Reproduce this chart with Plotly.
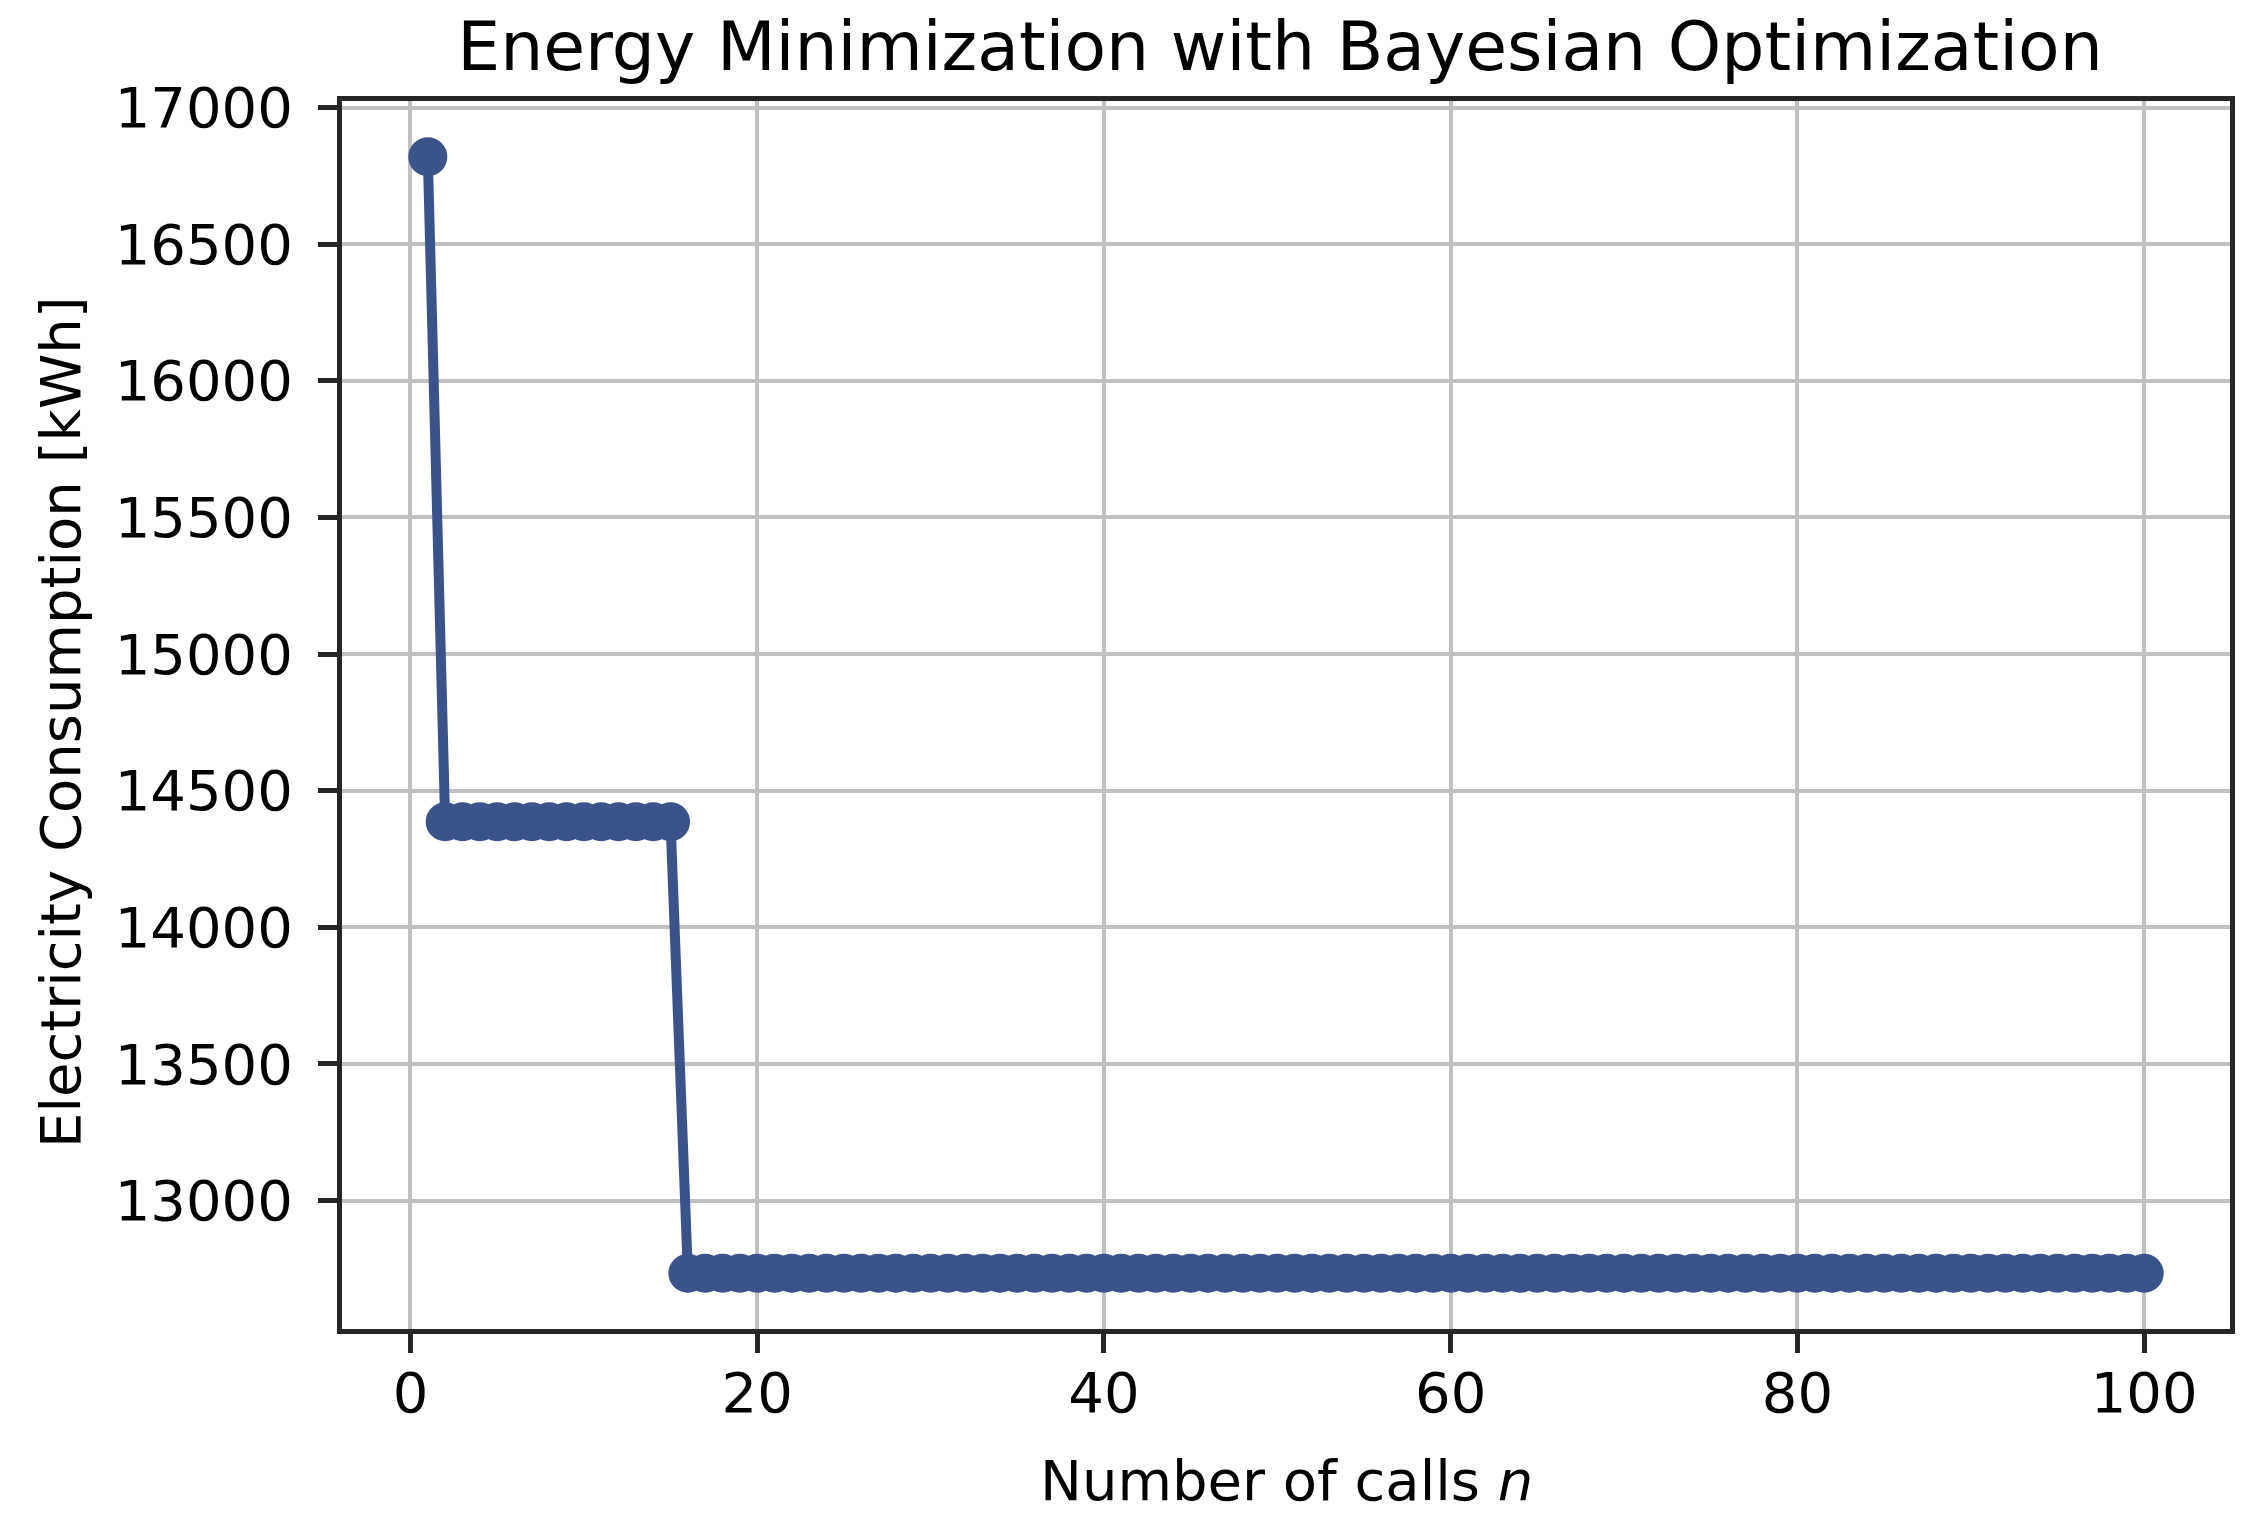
import plotly.graph_objects as go

# Data
calls = list(range(1, 101))
best_values = [16820] + [14386] * 14 + [12734] * 85

x_ticks = [0, 20, 40, 60, 80, 100]
y_ticks = [13000, 13500, 14000, 14500, 15000, 15500, 16000, 16500, 17000]

title_text = "Energy Minimization with Bayesian Optimization"
x_label = "Number of calls <i>n</i>"
y_label = "Electricity Consumption [kWh]"

# matplotlib-like 5% margins
xmin, xmax = min(calls), max(calls)
ymin, ymax = min(best_values), max(best_values)
xpad = (xmax - xmin) * 0.05
ypad = (ymax - ymin) * 0.05

# page body has an 8px default margin; compensate
OFF = 8
W, H = 2251 - OFF, 1531 - OFF
L, R, T, B = 342 - OFF, 21, 101 - OFF, 202
FONT = "DejaVu Sans"
COLOR = "#3b528b"
SPINE = "#262626"

fig = go.Figure()
fig.add_trace(go.Scatter(
    x=calls, y=best_values, mode="lines+markers",
    line=dict(color=COLOR, width=10),
    marker=dict(color=COLOR, size=39, line=dict(width=0)),
    showlegend=False,
))

axis_common = dict(
    showline=True, linewidth=5, linecolor=SPINE, mirror=True,
    showgrid=True, gridcolor="#c0c0c0", gridwidth=4,
    zeroline=False,
    ticks="outside", ticklen=19, tickwidth=5, tickcolor=SPINE,
    tickfont=dict(family=FONT, size=56, color="black"),
)

fig.update_xaxes(range=[xmin - xpad, xmax + xpad], tickvals=x_ticks,
                 ticktext=[str(v) for v in x_ticks], ticklabelstandoff=-8,
                 **axis_common)
fig.update_yaxes(range=[ymin - ypad, ymax + ypad], tickvals=y_ticks,
                 ticktext=[str(v) for v in y_ticks], ticklabelstandoff=14,
                 **axis_common)

pw = W - L - R
ph = H - T - B

fig.add_annotation(text=x_label, xref="paper", yref="paper",
                   x=0.5, y=-(1480 - 1329) / ph,
                   xanchor="center", yanchor="middle", showarrow=False,
                   font=dict(family=FONT, size=56, color="black"))
fig.add_annotation(text=y_label, xref="paper", yref="paper",
                   x=-(342 - 60) / pw, y=1 - (722 - 101) / ph, textangle=-90,
                   xanchor="center", yanchor="middle", showarrow=False,
                   font=dict(family=FONT, size=56, color="black"))

fig.update_layout(
    title=dict(text=title_text, xref="container", yref="container",
               x=(1280 - OFF) / W, y=1 - (46 - OFF) / H,
               xanchor="center", yanchor="middle",
               font=dict(family=FONT, size=68, color="black")),
    width=W, height=H,
    margin=dict(l=L, r=R, t=T, b=B, pad=0),
    paper_bgcolor="white", plot_bgcolor="white",
    font=dict(family=FONT, color="black"),
)

fig.write_html("out.html")
